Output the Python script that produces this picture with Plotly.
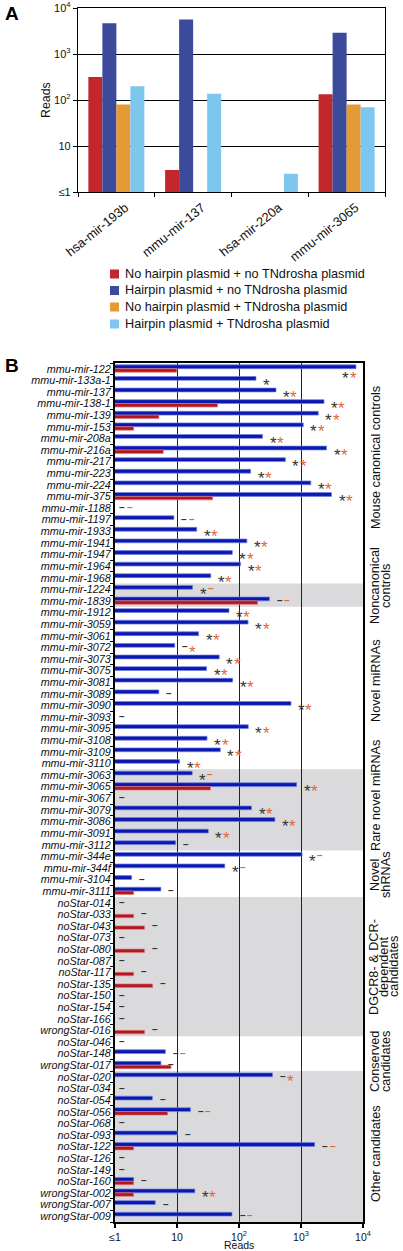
import math
import plotly.graph_objects as go

W, H = 403, 1251
FONT = "Liberation Sans, Arial, sans-serif"

# ---------------- Panel A data ----------------
a_categories = ["hsa-mir-193b", "mmu-mir-137", "hsa-mir-220a", "mmu-mir-3065"]
a_series = [
    "No hairpin plasmid + no TNdrosha plasmid",
    "Hairpin plasmid + no TNdrosha plasmid",
    "No hairpin plasmid + TNdrosha plasmid",
    "Hairpin plasmid + TNdrosha plasmid",
]
a_no_hp_no_tn = [316, 3.0, None, 133]
a_hp_no_tn = [4660, 5650, None, 2900]
a_no_hp_tn = [80, None, None, 80]
a_hp_tn = [200, 137, 2.5, 70]
a_colors = ["#C1272D", "#3C4A9B", "#E59A35", "#7DC7EF"]

log_tick_vals = [1, 10, 100, 1000, 10000]
log_tick_text = ["≤1", "10", "10<sup>2</sup>", "10<sup>3</sup>", "10<sup>4</sup>"]

# ---------------- Panel B data ----------------
b_mirnas = [
    "mmu-mir-122", "mmu-mir-133a-1", "mmu-mir-137", "mmu-mir-138-1", "mmu-mir-139",
    "mmu-mir-153", "mmu-mir-208a", "mmu-mir-216a", "mmu-mir-217", "mmu-mir-223",
    "mmu-mir-224", "mmu-mir-375", "mmu-mir-1188", "mmu-mir-1197", "mmu-mir-1933",
    "mmu-mir-1941", "mmu-mir-1947", "mmu-mir-1964", "mmu-mir-1968", "mmu-mir-1224",
    "mmu-mir-1839", "mmu-mir-1912", "mmu-mir-3059", "mmu-mir-3061", "mmu-mir-3072",
    "mmu-mir-3073", "mmu-mir-3075", "mmu-mir-3081", "mmu-mir-3089", "mmu-mir-3090",
    "mmu-mir-3093", "mmu-mir-3095", "mmu-mir-3108", "mmu-mir-3109", "mmu-mir-3110",
    "mmu-mir-3063", "mmu-mir-3065", "mmu-mir-3067", "mmu-mir-3079", "mmu-mir-3086",
    "mmu-mir-3091", "mmu-mir-3112", "mmu-mir-344e", "mmu-mir-344f", "mmu-mir-3104",
    "mmu-mir-3111", "noStar-014", "noStar-033", "noStar-043", "noStar-073",
    "noStar-080", "noStar-087", "noStar-117", "noStar-135", "noStar-150",
    "noStar-154", "noStar-166", "wrongStar-016", "noStar-046", "noStar-148",
    "wrongStar-017", "noStar-020", "noStar-034", "noStar-054", "noStar-056",
    "noStar-068", "noStar-093", "noStar-122", "noStar-126", "noStar-149",
    "noStar-160", "wrongStar-002", "wrongStar-007", "wrongStar-009",
]
# Hairpin plasmid + no TNdrosha plasmid (blue)
b_hairpin = [
    7700, 188, 395, 2350, 1900,
    1090, 240, 2580, 560, 154,
    1440, 3100, None, 8.9, 20.8,
    134, 78, 106, 35, 17.8,
    309, 69, 140, 22.3, 9.2,
    48, 30, 79, 5.1, 690,
    None, 141, 30.5, 50, 11,
    17.6, 850, None, 159, 379,
    32, 9.5, 1040, 59, 1.85,
    5.5, None, None, None, None,
    None, None, None, None, None,
    None, None, None, None, 6.5,
    5.5, 347, None, 4.0, 16.5,
    None, 10.1, 1660, None, None,
    2.0, 19.4, 4.46, 77,
]
# No hairpin plasmid + no TNdrosha plasmid (red)
b_no_hairpin = [
    9.9, None, None, 45, 5.1,
    2.0, None, 6.0, None, None,
    None, 37.6, None, None, None,
    None, None, None, None, None,
    200, None, None, None, None,
    None, None, None, None, None,
    None, None, None, None, None,
    None, 34.7, None, None, None,
    None, None, None, None, None,
    2.0, None, 2.0, 3.0, None,
    3.0, None, 2.0, 4.05, None,
    None, None, 3.0, None, None,
    8.0, None, None, None, 7.06,
    None, None, 2.0, None, None,
    2.0, 2.0, None, None,
]
# significance marks: "*" significant, "-" not significant, "" none
b_sig_hairpin = [
    "*", "*", "*", "*", "*", "*", "*", "*", "*", "*", "*", "*", "-", "-", "*",
    "*", "*", "*", "*", "*", "-", "*", "*", "*", "-", "*", "*", "*", "-", "*",
    "-", "*", "*", "*", "*", "*", "*", "-", "*", "*", "*", "-", "*", "*", "-",
    "-", "-", "-", "-", "-", "-", "-", "-", "-", "-", "-", "-", "-", "-", "-",
    "-", "-", "-", "-", "-", "-", "-", "-", "-", "-", "-", "*", "-", "-",
]
b_sig_tndrosha = [
    "*", "", "*", "*", "*", "*", "*", "*", "*", "*", "*", "*", "-", "-", "*",
    "*", "*", "*", "*", "-", "-", "*", "*", "*", "*", "*", "*", "*", "", "*",
    "", "*", "*", "*", "*", "-", "*", "", "*", "*", "*", "", "-", "-", "",
    "", "", "", "", "", "", "", "", "", "", "", "", "", "", "-",
    "", "*", "", "", "-", "", "", "-", "", "", "", "*", "", "-",
]
# groups: (label lines, first row, last row, shaded)
b_groups = [
    (["Mouse canonical controls"], 0, 18, False),
    (["Noncanonical", "controls"], 19, 20, True),
    (["Novel miRNAs"], 21, 34, False),
    (["Rare novel miRNAs"], 35, 41, True),
    (["Novel", "shRNAs"], 42, 45, False),
    (["DGCR8- & DCR-", "dependent", "candidates"], 46, 57, True),
    (["Conserved", "candidates"], 58, 60, False),
    (["Other candidates"], 61, 73, True),
]

# ---------------- helpers (pixel -> paper) ----------------
def px(x):
    return x / W

def py(y):
    return 1 - y / H

fig = go.Figure()

# Panel A bars
for name, vals, col in zip(a_series, [a_no_hp_no_tn, a_hp_no_tn, a_no_hp_tn, a_hp_tn], a_colors):
    fig.add_trace(go.Bar(x=a_categories, y=vals, name=name, marker=dict(color=col, line=dict(width=0)),
                         xaxis="x", yaxis="y", showlegend=False))

# Panel B bars
fig.add_trace(go.Bar(y=b_mirnas, x=b_hairpin, orientation="h", name=a_series[1],
                     marker=dict(color="#0A17B0", line=dict(color="#7080E0", width=0.7)),
                     width=0.33, offset=-0.34, xaxis="x2", yaxis="y2", showlegend=False))
fig.add_trace(go.Bar(y=b_mirnas, x=b_no_hairpin, orientation="h", name=a_series[0],
                     marker=dict(color="#B3161F", line=dict(color="#E07A7A", width=0.7)),
                     width=0.30, offset=-0.01, xaxis="x2", yaxis="y2", showlegend=False))

shapes = []
annotations = []

# gray bands
for lines, r0, r1, shaded in b_groups:
    if shaded:
        shapes.append(dict(type="rect", xref="x2 domain", x0=0, x1=1, yref="y2",
                           y0=r0 - 0.5, y1=r1 + 0.5, fillcolor="#DADADC",
                           line=dict(width=0), layer="below"))

# group labels (rotated)
label_centers = [458, 586, 681, 796, 875, 967, 1062, 1154]
line_x = {1: [376], 2: [375, 386], 3: [374, 384, 394]}
for (lines, r0, r1, shaded), yc in zip(b_groups, label_centers):
    for t, xx in zip(lines, line_x[len(lines)]):
        annotations.append(dict(text=t, x=px(xx), y=py(yc), xref="paper", yref="paper",
                                xanchor="center", yanchor="middle", showarrow=False,
                                textangle=-90, font=dict(size=12.7, color="#111", family=FONT)))

# significance marks
BLACK_MARK = "#333333"
ORANGE_MARK = "#E0673A"
for i, (hp, nhp, s1, s2) in enumerate(zip(b_hairpin, b_no_hairpin, b_sig_hairpin, b_sig_tndrosha)):
    ref = hp if hp is not None else nhp
    if ref is not None:
        xb = math.log10(ref) + 0.17
    else:
        xb = 0.115
    xo = xb + 0.12
    extra = 0
    if xo > 3.95:
        xb, xo = 3.72, 3.84
        extra = -5
    for sym, xx, col in ((s1, xb, BLACK_MARK), (s2, xo, ORANGE_MARK)):
        if not sym:
            continue
        if sym == "*":
            annotations.append(dict(text="*", x=xx, y=i, xref="x2", yref="y2", showarrow=False,
                                    xanchor="center", yanchor="middle", yshift=-5 + extra,
                                    borderpad=0,
                                    font=dict(size=17, color=col, family=FONT)))
        else:
            annotations.append(dict(text="–", x=xx, y=i, xref="x2", yref="y2", showarrow=False,
                                    xanchor="center", yanchor="middle", yshift=0.5 + extra,
                                    borderpad=0,
                                    font=dict(size=10, color=col, family=FONT, weight="bold")))

# Legend (panel A)
legend_rows = [274, 290.5, 307, 324]
for name, col, yc in zip(a_series, a_colors, legend_rows):
    shapes.append(dict(type="rect", xref="paper", yref="paper", x0=px(110), x1=px(119),
                       y0=py(yc + 4.5), y1=py(yc - 4.5), fillcolor=col, line=dict(width=0)))
    annotations.append(dict(text=name, x=px(123), y=py(yc), xref="paper", yref="paper",
                            xanchor="left", yanchor="middle", showarrow=False,
                            font=dict(size=12.7, color="#111", family=FONT)))

# Panel letters and axis titles
annotations += [
    dict(text="<b>A</b>", x=px(3), y=py(13), xref="paper", yref="paper", xanchor="left",
         yanchor="middle", showarrow=False, font=dict(size=19, color="#000", family=FONT)),
    dict(text="<b>B</b>", x=px(3), y=py(365), xref="paper", yref="paper", xanchor="left",
         yanchor="middle", showarrow=False, font=dict(size=19, color="#000", family=FONT)),
    dict(text="Reads", x=px(46), y=py(100), xref="paper", yref="paper", xanchor="center",
         yanchor="middle", showarrow=False, textangle=-90, font=dict(size=12.4, color="#111", family=FONT)),
    dict(text="Reads", x=px(239), y=py(1244.5), xref="paper", yref="paper", xanchor="center",
         yanchor="middle", showarrow=False, borderpad=0,
         font=dict(size=10.5, color="#111", family=FONT)),
]

fig.update_layout(
    width=W, height=H, autosize=False,
    margin=dict(l=0, r=0, t=0, b=0),
    template="none",
    paper_bgcolor="white", plot_bgcolor="white",
    font=dict(family=FONT, color="#111"),
    barmode="group", bargap=0.27, bargroupgap=0,
    showlegend=False,
    xaxis=dict(domain=[px(78), px(385)], anchor="y", type="category", range=[-0.5, 3.5],
               showline=True, mirror=True, linecolor="black", linewidth=1.3,
               ticks="outside", tickson="boundaries", ticklen=4, tickcolor="black", tickwidth=1.2,
               tickangle=-39, ticklabelshift=9, ticklabelstandoff=2,
               tickfont=dict(size=12.9, color="#111"), showgrid=False,
               automargin=False, fixedrange=True),
    yaxis=dict(domain=[py(192), py(8)], anchor="x", type="log", range=[0, 4],
               tickmode="array", tickvals=log_tick_vals, ticktext=log_tick_text,
               showgrid=True, gridcolor="black",
               gridwidth=1, showline=True, mirror=True, linecolor="black", linewidth=1.3,
               ticks="outside", ticklen=4, tickcolor="black", tickwidth=1.2,
               tickfont=dict(size=11, color="#111"), zeroline=False, automargin=False),
    xaxis2=dict(domain=[px(115), px(363)], anchor="y2", type="log", range=[0, 4],
                tickmode="array", tickvals=log_tick_vals, ticktext=log_tick_text,
                showgrid=True, gridcolor="#222",
                gridwidth=1, showline=True, mirror=True, linecolor="black", linewidth=2,
                ticks="outside", ticklen=4, tickcolor="black", tickwidth=1.5,
                ticklabelstandoff=0,
                tickfont=dict(size=10.5, color="#111"), zeroline=False, automargin=False),
    yaxis2=dict(domain=[py(1222), py(363)], anchor="x2", type="category", range=[73.5, -0.5],
                tickmode="array", tickvals=b_mirnas, ticktext=b_mirnas,
                showline=True, mirror=True, linecolor="black", linewidth=2,
                ticks="outside", tickson="boundaries", ticklen=3, tickcolor="black", tickwidth=1.2,
                tickfont=dict(size=10.8, color="#111", style="italic"), showgrid=False,
                automargin=False),
    shapes=shapes,
    annotations=annotations,
)

fig.write_html(
    "out.html",
    config={"displayModeBar": False},
    post_script="document.body.style.margin='0px';document.documentElement.style.overflow='hidden';",
)
